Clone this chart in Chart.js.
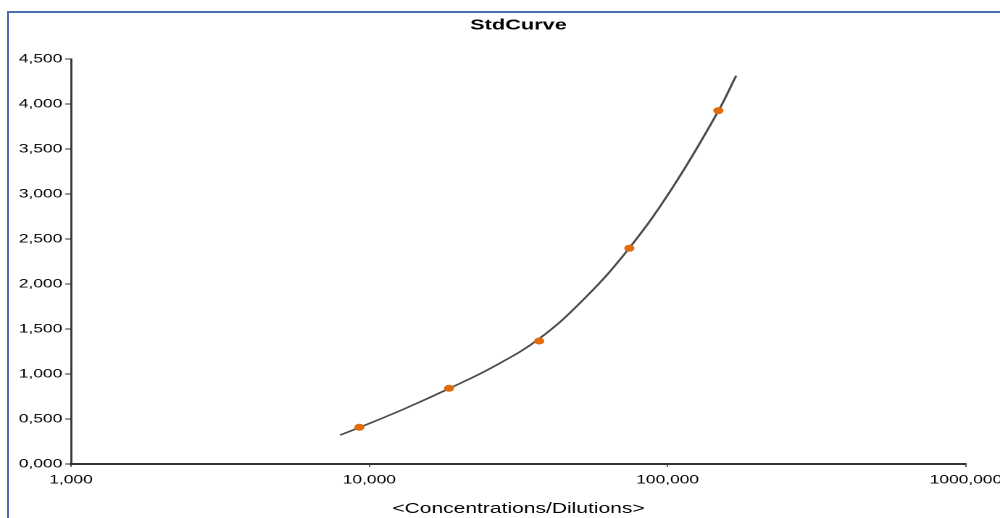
<!DOCTYPE html>
<html><head><meta charset="utf-8">
<script src="https://cdn.jsdelivr.net/npm/chart.js@4.4.1/dist/chart.umd.min.js"></script>
<style>
html,body{margin:0;padding:0;background:#fff;overflow:hidden;width:1000px;height:518px}
#frame{position:absolute;left:7px;top:11px;width:1000px;height:600px;border-left:2px solid #4a6db3;border-top:2px solid #4a6db3;}
#wrap{position:absolute;left:0;top:0;width:690px;height:518px;transform:scaleX(1.449275);transform-origin:0 0;}
</style></head><body>
<div id="frame"></div>
<div id="wrap"><canvas id="c" width="690" height="518"></canvas></div>
<script>
const titleText = 'StdCurve';
const xAxisTitle = '<Concentrations/Dilutions>';
const stdX = [9.26, 18.5, 37.1, 74.4, 147.9];
const stdY = [0.408, 0.841, 1.367, 2.397, 3.926];
const fitX = [7.98, 9.26, 13.07, 18.5, 26.2, 37.1, 52.5, 74.4, 104.2, 147.9, 169.6];
const fitY = [0.322, 0.405, 0.611, 0.838, 1.085, 1.392, 1.835, 2.400, 3.078, 3.922, 4.314];
const xTickValues = [1, 10, 100, 1000];
const xTickLabels = ['1,000', '10,000', '100,000', '1000,000'];
const yTickValues = [0, 0.5, 1, 1.5, 2, 2.5, 3, 3.5, 4, 4.5];
const yTickLabels = ['0,000', '0,500', '1,000', '1,500', '2,000', '2,500', '3,000', '3,500', '4,000', '4,500'];

const FONT = '"Liberation Sans", Arial, sans-serif';

const titles = {
  id: 'titles',
  afterDraw(chart) {
    const ctx = chart.ctx, a = chart.chartArea;
    const cx = (a.left + a.right) / 2;
    ctx.save();
    ctx.fillStyle = '#000';
    ctx.textAlign = 'center';
    ctx.textBaseline = 'middle';
    ctx.font = 'bold 15px ' + FONT;
    ctx.fillText(titleText, cx, 25.5);
    ctx.font = '14.5px ' + FONT;
    ctx.fillText(xAxisTitle, cx, 509);
    ctx.restore();
  }
};

new Chart(document.getElementById('c'), {
  type: 'scatter',
  data: {
    datasets: [
      {
        label: 'points',
        data: stdX.map((x, i) => ({x: x, y: stdY[i]})),
        backgroundColor: '#e26b0a',
        borderColor: '#e26b0a',
        pointRadius: 3.5,
        pointHoverRadius: 3.5,
        pointStyle: 'circle',
        borderWidth: 0,
        order: 0
      },
      {
        label: 'fit',
        data: fitX.map((x, i) => ({x: x, y: fitY[i]})),
        showLine: true,
        borderColor: '#4a4a4a',
        borderWidth: 1.6,
        pointRadius: 0,
        tension: 0.4,
        fill: false,
        order: 1
      }
    ]
  },
  options: {
    responsive: false,
    animation: false,
    devicePixelRatio: 2,
    layout: {padding: {top: 59, right: 23, left: 0, bottom: 0}},
    plugins: {legend: {display: false}, tooltip: {enabled: false}, title: {display: false}},
    scales: {
      x: {
        type: 'logarithmic',
        min: 1, max: 1000,
        afterBuildTicks: s => { s.ticks = xTickValues.map(v => ({value: v, major: true})); },
        afterFit: s => { s.height = 54; s.paddingRight = 23.5; s.paddingLeft = 0; },
        ticks: {
          autoSkip: false, maxRotation: 0, padding: 6,
          color: '#000', font: {family: FONT, size: 12},
          callback: (v, i) => xTickLabels[i]
        },
        grid: {display: true, drawOnChartArea: false, drawTicks: true, tickLength: 3, lineWidth: 0.8, color: '#333'},
        border: {display: true, color: '#333', width: 2}
      },
      y: {
        type: 'linear',
        min: 0, max: 4.5,
        afterBuildTicks: s => { s.ticks = yTickValues.map(v => ({value: v})); },
        afterFit: s => { s.width = 49; },
        ticks: {
          autoSkip: false, padding: 2,
          color: '#000', font: {family: FONT, size: 12},
          callback: (v, i) => yTickLabels[i]
        },
        grid: {display: true, drawOnChartArea: false, drawTicks: true, tickLength: 4, lineWidth: 1, color: '#333'},
        border: {display: true, color: '#333', width: 1.4}
      }
    }
  },
  plugins: [titles]
});
</script>
</body></html>
